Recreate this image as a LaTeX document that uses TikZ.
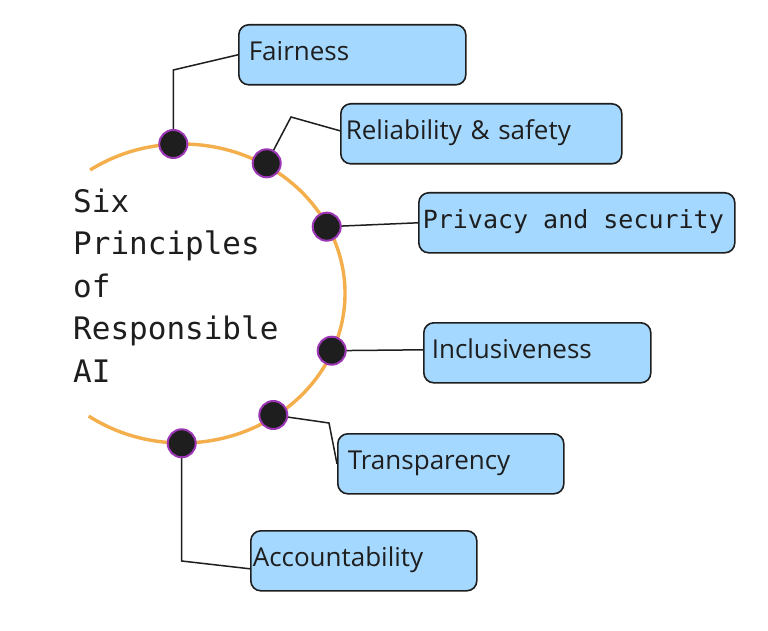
\documentclass[tikz,border=0pt]{standalone}
\usepackage{fontspec}
\usetikzlibrary{backgrounds}
\newfontfamily\monofont[WordSpace={1,0,0}]{DejaVu Sans Mono}
\newfontfamily\labelfont{Open Sans}
\newcommand\monosp{\hspace{0.602em}}
\definecolor{ink}{HTML}{1E1E1E}
\definecolor{boxblue}{HTML}{A5D8FF}
\definecolor{arcorange}{HTML}{F4AE4C}
\definecolor{dotpurple}{HTML}{9C36B5}
\tikzset{
  box/.style={draw=ink, line width=1.6pt, fill=boxblue, rounded corners=10pt,
    minimum height=60pt, anchor=north west, align=left, text=ink,
    font=\labelfont\fontsize{26}{30}\selectfont, inner ysep=0pt,
    text height=19pt, text depth=7pt},
  dot/.style={circle, fill=ink, draw=dotpurple, line width=2pt,
    minimum size=28pt, inner sep=0pt},
  link/.style={draw=ink, line width=1.5pt},
  arcline/.style={draw=arcorange, line width=3.4pt}
}
\begin{document}
\begin{tikzpicture}[x=1pt,y=-1pt]
\useasboundingbox (0,0) rectangle (768,631);
% ring
\draw[arcline] (182,293.5) ++(-124.3:163 and 149.5)
  arc[start angle=-124.3, end angle=124.9, x radius=163, y radius=149.5];
% title
\node[anchor=north west, inner sep=0pt, align=left, text=ink,
  font=\monofont\fontsize{31}{42.5}\selectfont] (title) at (73,188.5)
  {Six\\Principles\\of\\Responsible\\AI};
% boxes
\node[box, text width=207pt, inner xsep=10pt] (fair) at (238,24) {Fairness};
\node[box, text width=271pt, inner xsep=5pt] (rel) at (340,103) {Reliability \& safety};
\node[box, text width=308pt, inner xsep=4pt,
  font=\monofont\fontsize{25}{28}\selectfont] (priv) at (418,192)
  {Privacy\monosp and\monosp security};
\node[box, text width=211pt, inner xsep=8pt] (incl) at (423,322) {Inclusiveness};
\node[box, text width=206pt, inner xsep=10pt] (trans) at (337,433) {Transparency};
\node[box, text width=222pt, inner xsep=2pt] (acc) at (250,530) {Accountability};
% dots
\node[dot] (d1) at (173.3,144) {};
\node[dot] (d2) at (266.7,163.3) {};
\node[dot] (d3) at (326.7,226.7) {};
\node[dot] (d4) at (331.7,350.7) {};
\node[dot] (d5) at (273.3,415) {};
\node[dot] (d6) at (181.7,443.3) {};
% corner points
\coordinate (c1) at (173.3,70);
\coordinate (c2) at (291,117);
\coordinate (c5) at (329,423);
\coordinate (c6) at (181.7,561);
\begin{pgfonlayer}{background}
\fill[white] (0,0) rectangle (768,631);
\draw[link] (d1.center) -- (c1) -- (fair.west);
\draw[link] (d2.center) -- (c2) -- ([yshift=3pt]rel.west);
\draw[link] (d3.center) -- (priv.west);
\draw[link] (d4.center) -- ([yshift=3pt]incl.west);
\draw[link] (d5.center) -- (c5) -- (trans.west);
\draw[link] (d6.center) -- (c6) -- ([yshift=-8pt]acc.west);
\end{pgfonlayer}
\end{tikzpicture}
\end{document}
